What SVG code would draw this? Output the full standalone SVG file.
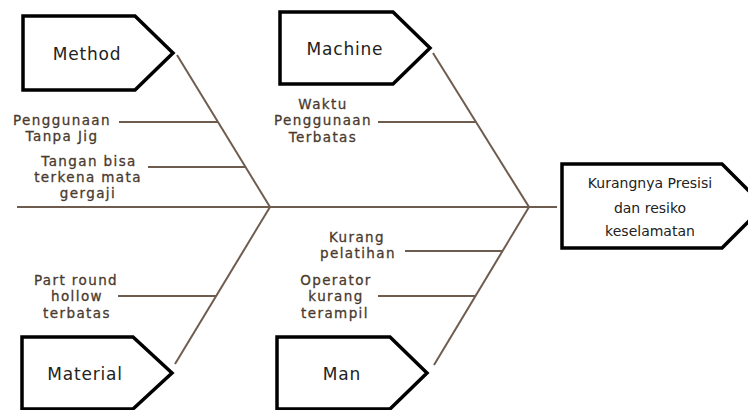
<svg xmlns="http://www.w3.org/2000/svg" width="748" height="410" viewBox="0 0 748 410">
<style>
.box{fill:#fff;stroke:#000;stroke-width:3.5;stroke-linejoin:miter}
.ln{stroke:#6e5c4f;stroke-width:2;fill:none}
.lbl{font-family:"DejaVu Sans",sans-serif;font-size:13.5px;letter-spacing:1.4px;fill:#4a3a2e;stroke:#4a3a2e;stroke-width:0.3;text-anchor:middle;dominant-baseline:central}
.bt{font-family:"DejaVu Sans",sans-serif;font-size:17px;letter-spacing:0.8px;fill:#222;text-anchor:middle;dominant-baseline:central}
.rt{font-family:"DejaVu Sans",sans-serif;font-size:14px;fill:#222;text-anchor:middle;dominant-baseline:central}
</style>
<rect width="748" height="410" fill="#fff"/>
<g id="connectors">
<line class="ln" x1="17" y1="207" x2="557" y2="207"/>
<line class="ln" x1="177" y1="55" x2="270" y2="207"/>
<line class="ln" x1="270" y1="207" x2="175" y2="364"/>
<line class="ln" x1="433" y1="53" x2="529" y2="207"/>
<line class="ln" x1="529" y1="207" x2="434" y2="365"/>
<line class="ln" x1="119" y1="122" x2="218" y2="122"/>
<line class="ln" x1="148" y1="167" x2="246" y2="167"/>
<line class="ln" x1="378" y1="122" x2="476" y2="122"/>
<line class="ln" x1="118" y1="296" x2="216" y2="296"/>
<line class="ln" x1="405" y1="251" x2="503" y2="251"/>
<line class="ln" x1="378" y1="296" x2="476" y2="296"/>
</g>
<g id="method">
<polygon class="box" points="23,16 135,16 173,53 135,90 23,90"/>
<text class="bt" x="87" y="54">Method</text>
</g>
<g id="machine">
<polygon class="box" points="280,12 393,12 430,48 393,84 280,84"/>
<text class="bt" x="345" y="49">Machine</text>
</g>
<g id="material">
<polygon class="box" points="22,337 133,337 172,373 133,409 22,409"/>
<text class="bt" x="85" y="374">Material</text>
</g>
<g id="man">
<polygon class="box" points="277,337 390,337 427,373 390,409 277,409"/>
<text class="bt" x="342" y="374">Man</text>
</g>
<g id="result">
<polygon class="box" points="562,164 722,164 764,206 722,248 562,248"/>
<text class="rt" x="650" y="183">Kurangnya Presisi</text>
<text class="rt" x="650" y="208">dan resiko</text>
<text class="rt" x="650" y="231">keselamatan</text>
</g>
<g id="cause-method-1">
<text class="lbl" x="62" y="120">Penggunaan</text>
<text class="lbl" x="62" y="136">Tanpa Jig</text>
</g>
<g id="cause-method-2">
<text class="lbl" x="89" y="161">Tangan bisa</text>
<text class="lbl" x="88" y="177">terkena mata</text>
<text class="lbl" x="88" y="193">gergaji</text>
</g>
<g id="cause-machine-1">
<text class="lbl" x="323" y="104">Waktu</text>
<text class="lbl" x="323" y="120">Penggunaan</text>
<text class="lbl" x="323" y="137">Terbatas</text>
</g>
<g id="cause-material-1">
<text class="lbl" x="76" y="280">Part round</text>
<text class="lbl" x="77" y="296">hollow</text>
<text class="lbl" x="77" y="313">terbatas</text>
</g>
<g id="cause-man-1">
<text class="lbl" x="357" y="237">Kurang</text>
<text class="lbl" x="358" y="253">pelatihan</text>
</g>
<g id="cause-man-2">
<text class="lbl" x="336" y="280">Operator</text>
<text class="lbl" x="336" y="296">kurang</text>
<text class="lbl" x="335" y="313">terampil</text>
</g>
</svg>
